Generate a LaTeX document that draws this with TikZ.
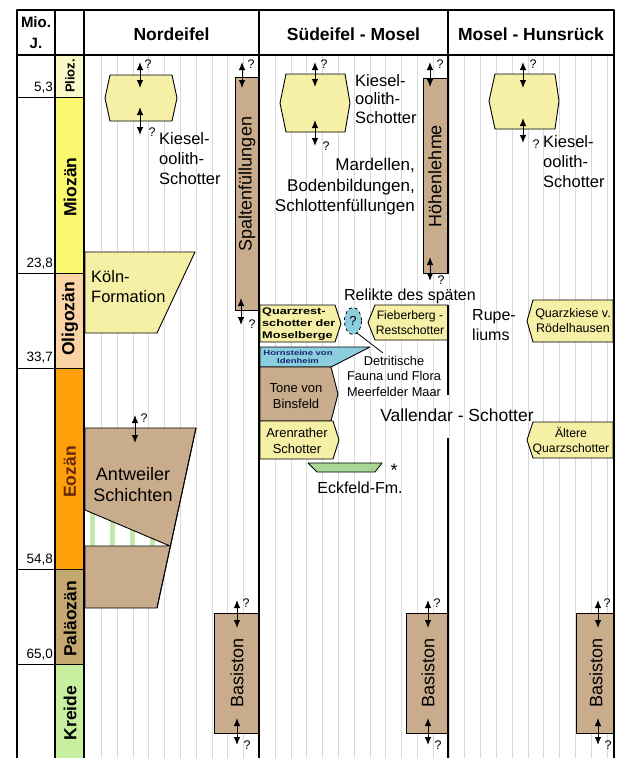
\documentclass[tikz,border=0pt]{standalone}
\usepackage{fontspec}
\setmainfont{Liberation Sans}
\newfontfamily\widefont[FakeStretch=1.32]{Liberation Sans}
\usetikzlibrary{arrows.meta}
\definecolor{plio}{RGB}{250,250,200}
\definecolor{mio}{RGB}{250,248,110}
\definecolor{oligo}{RGB}{250,212,165}
\definecolor{eo}{RGB}{255,160,10}
\definecolor{paleo}{RGB}{196,168,112}
\definecolor{kreide}{RGB}{200,238,160}
\definecolor{paleyel}{RGB}{245,240,165}
\definecolor{tanbox}{RGB}{200,172,140}
\definecolor{lblue}{RGB}{140,205,222}
\definecolor{lgreen}{RGB}{168,214,148}
\definecolor{stripe}{RGB}{195,232,170}
\definecolor{gridgray}{RGB}{218,218,218}
\definecolor{eotext}{RGB}{100,40,10}
\definecolor{navy}{RGB}{20,40,110}
\begin{document}
\begin{tikzpicture}[x=1pt,y=-1pt,line join=round,
  frame/.style={draw=black,line width=1.1pt},
  box/.style={draw=black,line width=0.9pt},
  gridline/.style={draw=gridgray,line width=0.7pt},
  dar/.style={{Latex[length=8pt,width=6.5pt]}-{Latex[length=8pt,width=6.5pt]},line width=1pt},
  qm/.style={font=\fontsize{12.5}{14}\selectfont,inner sep=0pt},
  hdr/.style={font=\bfseries\fontsize{17.5}{21}\selectfont,inner sep=0pt},
  num/.style={font=\fontsize{13.5}{16}\selectfont,inner sep=0pt,anchor=east},
  epo/.style={font=\bfseries\fontsize{17.5}{21}\selectfont,inner sep=0pt,rotate=90},
  vlab/.style={font=\fontsize{18}{21}\selectfont,inner sep=0pt,rotate=90},
  kies/.style={font=\fontsize{16.5}{20}\selectfont,inner sep=0pt,align=left,anchor=west},
  small/.style={font=\fontsize{12.8}{15.5}\selectfont,inner sep=0pt,align=center},
  mid/.style={font=\fontsize{16.5}{20.5}\selectfont,inner sep=0pt},
  widebold/.style={font=\widefont\bfseries\fontsize{9.6}{12}\selectfont,inner sep=0pt,align=left}]
\useasboundingbox (0,0) rectangle (621,758);
\fill[white] (0,0) rectangle (621,758);

% grid
\foreach \i in {0,...,32} {\draw[gridline] ({101.3+15.8*\i},55) -- ({101.3+15.8*\i},758);}

% epoch column
\filldraw[box,fill=plio] (55,55) rectangle (84,97);
\filldraw[box,fill=mio] (55,97) rectangle (84,273);
\filldraw[box,fill=oligo] (55,273) rectangle (84,368);
\filldraw[box,fill=eo] (55,368) rectangle (84,569);
\filldraw[box,fill=paleo] (55,569) rectangle (84,664);
\filldraw[box,fill=kreide] (55,664) rectangle (84,758);
\node[epo,font=\bfseries\fontsize{13}{15}\selectfont] (ePl) at (70,76) {Plioz.};
\node[epo] (eMi) at (70,187) {Miozän};
\node[epo] (eOl) at (70,319) {Oligozän};
\node[epo,text=eotext] (eEo) at (70,472) {Eozän};
\node[epo] (ePa) at (70,619) {Paläozän};
\node[epo] (eKr) at (70,713) {Kreide};

% time lines and numbers
\foreach \yy in {97,273,368,569,664} {\draw[box] (17,\yy) -- (55,\yy);}
\node[num] (n1) at (53,88) {5,3};
\node[num] (n2) at (53,264) {23,8};
\node[num] (n3) at (53,358) {33,7};
\node[num] (n4) at (53,560) {54,8};
\node[num] (n5) at (53,655) {65,0};

% ---------- Nordeifel ----------
\filldraw[box,fill=paleyel] (110,75) -- (172,75) -- (177,98) -- (172,121) -- (110,121) -- (105,98) -- cycle;
\draw[dar] (140,62) -- (140,88);
\draw[dar] (140,107) -- (140,135);
\node[qm] (q1) at (148,64) {?};
\node[qm] (q2) at (152,132) {?};
\node[kies] (kN) at (159,159) {Kiesel-\\oolith-\\Schotter};

\filldraw[box,fill=tanbox] (235,77) rectangle (259,310);
\node[vlab] (spalt) at (247,184) {Spaltenfüllungen};
\draw[dar] (242,62) -- (242,88);
\draw[dar] (241,298) -- (241,325);
\node[qm] (q3) at (251,64) {?};
\node[qm] (q4) at (252,324) {?};

\filldraw[box,fill=paleyel] (85,252) -- (195,252) -- (157,333) -- (85,333) -- cycle;
\node[kies,font=\fontsize{16.5}{20}\selectfont] (koeln) at (91,287) {Köln-\\Formation};

% Antweiler Schichten
\filldraw[box,fill=tanbox] (85,428) -- (196,428) -- (157,608) -- (85,608) -- cycle;
\fill[white] (85,510) -- (170,546) -- (85,546) -- cycle;
\begin{scope}
  \clip (85,510) -- (170,546) -- (85,546) -- cycle;
  \foreach \sx in {92,112,132,152} {\fill[stripe] (\sx-2.5,505) rectangle (\sx+2.5,548);}
\end{scope}
\draw[box] (85,510) -- (170,546) -- (85,546);
\draw[box] (196,428) -- (157,608);
\node[mid,font=\fontsize{18}{21}\selectfont,align=center] (antw) at (133,485) {Antweiler\\Schichten};
\draw[dar] (135,415) -- (135,443);
\node[qm] (q5) at (144,418) {?};

% Basiston boxes
\filldraw[box,fill=tanbox] (214,613) rectangle (259,733);
\filldraw[box,fill=tanbox] (406,613) rectangle (448,733);
\filldraw[box,fill=tanbox] (576,613) rectangle (614,733);
\node[vlab] (bas1) at (237,673) {Basiston};
\node[vlab] (bas2) at (428,673) {Basiston};
\node[vlab] (bas3) at (596,673) {Basiston};
\foreach \ax in {237,428,598} {
  \draw[dar] (\ax,600) -- (\ax,628);
  \draw[dar] (\ax,718) -- (\ax,745);
  \node[qm] at (\ax+9,603) {?};
  \node[qm] at (\ax+10,745) {?};
}

% ---------- Suedeifel - Mosel ----------
\filldraw[box,fill=paleyel] (286,74) -- (345,74) -- (350,103) -- (345,132) -- (286,132) -- (280,103) -- cycle;
\draw[dar] (315,62) -- (315,87);
\draw[dar] (315,120) -- (315,146);
\node[qm] (q6) at (324,64) {?};
\node[qm] (q7) at (326,146) {?};
\node[kies,font=\fontsize{16.5}{18.5}\selectfont] (kS) at (355,99) {Kiesel-\\oolith-\\Schotter};
\node[mid,align=right,anchor=east,font=\fontsize{17}{20.5}\selectfont] (mard) at (415,187) {Mardellen,\\Bodenbildungen,\\Schlottenfüllungen};

\filldraw[box,fill=tanbox] (423,78) rectangle (448,273);
\node[vlab] (hoeh) at (435,176) {Höhenlehme};
\draw[dar] (430,62) -- (430,87);
\draw[dar] (430,257) -- (430,281);
\node[qm] (q8) at (440,64) {?};
\node[qm] (q9) at (441,280) {?};

\node[mid,font=\fontsize{16}{19}\selectfont] (relikte) at (410,296) {Relikte des späten};
\node[mid,font=\fontsize{16}{20}\selectfont,align=left,anchor=west] (rupe) at (472,325) {Rupe-\\liums};

\filldraw[box,fill=paleyel] (260,305) -- (335,305) -- (341,323.5) -- (335,342) -- (260,342) -- cycle;
\node[widebold,anchor=west] (quarzrest) at (262,324) {Quarzrest-\\schotter der\\Moselberge};

\filldraw[box,fill=paleyel] (368,322.5) -- (375,305) -- (448,305) -- (448,340) -- (375,340) -- cycle;
\node[small,font=\fontsize{12.2}{15}\selectfont] (fieb) at (410,322.5) {Fieberberg -\\Restschotter};

\filldraw[draw=black,line width=0.8pt,dashed,fill=lblue] (353,321) ellipse [x radius=8.5,y radius=13.5];
\node[qm,font=\fontsize{13}{15}\selectfont] (qell) at (353,321) {?};
\coordinate (ellb) at (357,333);
\coordinate (detr) at (383,353);
\draw[line width=0.8pt] (ellb) -- (detr);

\filldraw[box,fill=lblue] (260,347) -- (370,347) -- (331,367) -- (260,367) -- cycle;
\node[widebold,align=center,text=navy,font=\widefont\bfseries\fontsize{7.2}{8.5}\selectfont] (horn) at (298,357) {Hornsteine von\\Idenheim};

\filldraw[box,fill=tanbox] (260,367) -- (331,367) -- (338,394) -- (331,421) -- (260,421) -- cycle;
\node[small,font=\fontsize{13}{16}\selectfont] (tone) at (296,396) {Tone von\\Binsfeld};

\filldraw[box,fill=paleyel] (260,421) -- (333,421) -- (339,440) -- (333,459) -- (260,459) -- cycle;
\node[small,font=\fontsize{13}{15.5}\selectfont] (aren) at (297,441) {Arenrather\\Schotter};

\node[small] (detrit) at (394,376) {Detritische\\Fauna und Flora\\Meerfelder Maar};

\filldraw[draw=black,line width=0.8pt,fill=lgreen] (308,463) -- (382,463) -- (375,472) -- (317,472) -- cycle;
\node[mid,font=\fontsize{18}{20}\selectfont] (star) at (394,470) {*};
\node[mid,font=\fontsize{16}{19}\selectfont] (eck) at (360,488) {Eckfeld-Fm.};

\node[mid,font=\fontsize{17.5}{20}\selectfont] (vall) at (457,415) {Vallendar - Schotter};

% ---------- Mosel - Hunsrueck ----------
\filldraw[box,fill=paleyel] (495,74) -- (555,74) -- (559,101) -- (555,129) -- (495,129) -- (489,101) -- cycle;
\draw[dar] (523,62) -- (523,88);
\draw[dar] (523,118) -- (523,143);
\node[qm] (q10) at (533,64) {?};
\node[qm] (q11) at (536,144) {?};
\node[kies] (kM) at (543,162) {Kiesel-\\oolith-\\Schotter};

\filldraw[box,fill=paleyel] (527,321) -- (533,300) -- (613,300) -- (613,342) -- (533,342) -- cycle;
\node[small,font=\fontsize{12.5}{15}\selectfont] (rodel) at (573,321) {Quarzkiese v.\\Rödelhausen};

\filldraw[box,fill=paleyel] (527,440) -- (533,422) -- (613,422) -- (613,458) -- (533,458) -- cycle;
\node[small,font=\fontsize{12.2}{15}\selectfont] (aelt) at (571,441) {Ältere\\Quarzschotter};

% ---------- frame and headers ----------
\draw[frame] (17,758) -- (17,10) -- (614,10) -- (614,758);
\draw[frame] (17,55) -- (614,55);
\draw[frame] (55,10) -- (55,758);
\draw[frame] (84,10) -- (84,758);
\draw[frame] (259,10) -- (259,758);
\draw[frame] (448,10) -- (448,273);
\draw[frame] (448,305) -- (448,395);
\draw[frame] (448,438) -- (448,758);

\node[hdr,align=center,font=\bfseries\fontsize{15}{21}\selectfont] (hmio) at (36,33) {Mio.\\J.};
\node[hdr] (hN) at (171.5,34) {Nordeifel};
\node[hdr] (hS) at (353.5,34) {Südeifel - Mosel};
\node[hdr] (hM) at (531,34) {Mosel - Hunsrück};
\end{tikzpicture}
\end{document}
